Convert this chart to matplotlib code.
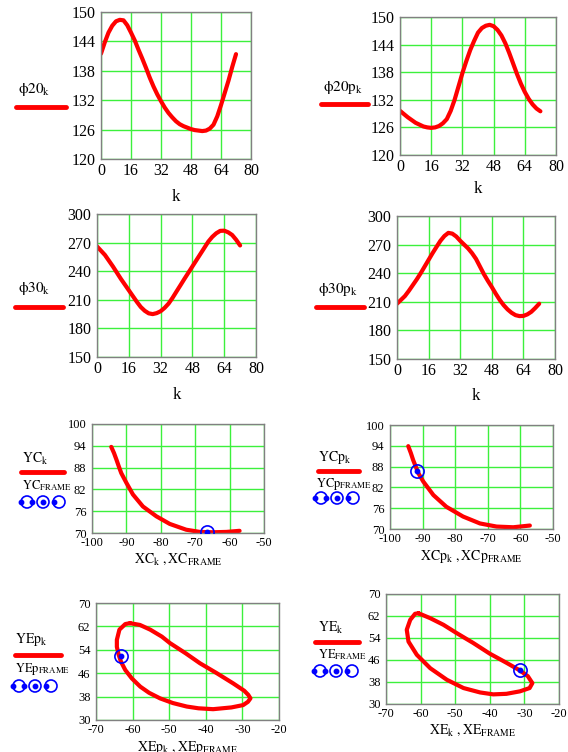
import numpy as np
import matplotlib
matplotlib.use("Agg")
import matplotlib.pyplot as plt
from matplotlib.patches import Circle

plt.rcParams['font.family'] = ['Liberation Serif', 'DejaVu Serif']
plt.rcParams['mathtext.fontset'] = 'stix'
plt.rcParams['axes.unicode_minus'] = False

W, H = 568, 752

# crank angle index
k = list(range(0, 73, 2))
phi20 = [141.5, 143.8, 145.8, 147.2, 148.1, 148.4, 148.3, 147.3, 145.8, 144.2, 142.3, 140.5,
         138.6, 136.6, 134.8, 133.2, 131.8, 130.5, 129.4, 128.5, 127.7, 127.1, 126.7, 126.4,
         126.1, 125.9, 125.8, 125.7, 125.8, 126.2, 127.0, 128.7, 131.0, 133.5, 136.0, 138.8, 141.4]
phi20p = [129.6, 128.9, 128.2, 127.6, 127.0, 126.6, 126.2, 126.0, 125.9, 126.0, 126.3, 126.9,
          127.8, 129.6, 132.0, 134.9, 137.8, 140.4, 142.8, 144.8, 146.6, 147.6, 148.1, 148.3,
          148.0, 147.2, 146.0, 144.3, 142.2, 139.9, 137.6, 135.5, 133.7, 132.2, 131.0, 130.1, 129.5]
phi30 = [266, 261.5, 257, 251, 245, 238.5, 232, 226, 220, 214, 208, 202.5,
         198.5, 195.8, 195, 196, 198, 201.5, 206, 212, 218.7, 225.3, 232, 238.5,
         245, 251.5, 258, 264.5, 271, 276, 279.8, 282.3, 282.5, 280.8, 278, 273, 267]
phi30p = [208, 212, 216, 221.5, 227.5, 233.5, 240, 247, 254, 261, 267.6, 274,
          279, 282.3, 281.5, 278.5, 274, 270, 266, 261, 255, 247, 239, 232,
          225.5, 218.5, 212, 206.5, 202, 198.5, 196, 195, 195.2, 196.8, 199.5, 203.5, 208]

# coupler point C path
XC = [-94.4, -93.6, -92.9, -92.2, -91.5, -90.0, -88.1, -85.2, -81.3, -77.4, -72.6, -68.7,
      -64.8, -60.9, -57.1]
YC = [93.7, 92.0, 90.2, 88.3, 86.5, 83.8, 80.6, 77.3, 74.6, 72.5, 70.9, 70.3,
      70.2, 70.3, 70.6]
XC_FRAME = [-66.5]
YC_FRAME = [70.25]
XCp = [-94.4, -93.6, -92.9, -92.1, -91.3, -89.8, -86.7, -82.7, -77.6, -72.4, -67.3, -62.2, -57.1]
YCp = [93.9, 91.9, 89.9, 88.0, 86.1, 83.7, 79.8, 76.4, 73.6, 71.6, 70.7, 70.5, 71.0]
XCp_FRAME = [-91.6]
YCp_FRAME = [86.7]

# point E path (closed loops)
XEp = [-60.7, -58.0, -55.2, -52.0, -49.8, -45.5, -41.6, -37.0, -32.5, -29.5, -28.4, -27.8,
       -28.5, -29.8, -33.0, -38.0, -42.0, -45.2, -49.0, -52.5, -55.5, -57.9, -60.2, -62.0,
       -63.2, -63.8, -64.3, -64.3, -63.6, -62.0, -60.7]
YEp = [63.1, 62.5, 60.9, 58.5, 56.3, 52.8, 49.4, 46.0, 42.5, 40.0, 38.6, 37.4,
       36.2, 35.1, 34.3, 33.7, 34.0, 34.6, 35.8, 37.4, 39.3, 41.4, 44.2, 47.1,
       50.0, 52.3, 55.0, 57.4, 60.9, 62.8, 63.1]
XEp_FRAME = [-63.2]
YEp_FRAME = [52.0]
XE = [-60.6, -57.2, -53.4, -49.6, -44.8, -40.0, -35.2, -31.3, -29.0, -27.7, -28.5, -31.3,
      -35.2, -39.0, -42.8, -47.6, -52.4, -57.2, -61.1, -63.5, -64.0, -63.0, -61.6, -60.6]
YE = [63.0, 61.2, 58.8, 55.8, 52.2, 48.3, 45.0, 42.2, 40.1, 37.6, 35.8, 34.6,
      33.7, 33.5, 34.2, 35.8, 38.8, 43.0, 47.9, 52.7, 57.0, 60.6, 62.8, 63.0]
XE_FRAME = [-31.3]
YE_FRAME = [42.2]

fig = plt.figure(figsize=(W / 100, H / 100), dpi=100)
ov = fig.add_axes([0, 0, 1, 1])
ov.set_xlim(0, W); ov.set_ylim(H, 0); ov.axis('off')

RED = '#ff0000'
GRID = '#3cf03c'


def make_axes(box, xlim, ylim, xticks, yticks, xlabel, labelpad, tsize, lsize):
    l, r, t, b = box
    ax = fig.add_axes([l / W, 1 - b / H, (r - l) / W, (b - t) / H])
    ax.set_xlim(xlim); ax.set_ylim(ylim)
    ax.set_xticks(xticks); ax.set_yticks(yticks)
    ax.grid(True, color=GRID, lw=1)
    ax.set_axisbelow(True)
    ax.tick_params(length=0, labelsize=tsize, pad=3)
    ax.tick_params(axis='y', pad=4)
    for s in ax.spines.values():
        s.set_color('#808080'); s.set_linewidth(1)
    ax.set_xlabel(xlabel, fontsize=lsize, labelpad=labelpad)
    return ax


def curve(ax, xs, ys):
    ax.plot(xs, ys, color=RED, lw=3, solid_joinstyle='round', solid_capstyle='round')


def line_legend(x, y, label, x0, x1, ly, size=11):
    ov.text(x, y, label, fontsize=size, va='baseline', ha='left')
    ov.plot([x0, x1], [ly, ly], color=RED, lw=3.5, solid_capstyle='round')


def frame_legend(x, y, label, mx, my):
    ov.text(x, y, label, fontsize=9, va='baseline', ha='left')
    for dx in (0, 16, 32):
        ov.add_patch(Circle((mx + dx, my), 6, fill=False, ec='blue', lw=1.2))
    ov.plot([mx - 6, mx + 5, mx + 16, mx + 27], [my] * 4, 'o', color='blue', ms=3.2, ls='none')


def frame_mark(ax, xs, ys):
    ax.plot(xs, ys, 'o', mfc='none', mec='blue', ms=9.5, mew=1.2, zorder=4)
    ax.plot(xs, ys, 'o', color='blue', ms=3.2, zorder=5)


kt = [0, 16, 32, 48, 64, 80]

ax = make_axes((101, 251, 12, 159), (0, 80), (120, 150), kt, [120, 126, 132, 138, 144, 150],
               'k', 7, 11.5, 12)
curve(ax, k, phi20)
line_legend(18, 93, r'$\mathrm{\phi20_k}$', 16, 66, 107)

ax = make_axes((400, 556, 17, 155), (0, 80), (120, 150), kt, [120, 126, 132, 138, 144, 150],
               'k', 4, 11.5, 12)
curve(ax, k, phi20p)
line_legend(323, 91, r'$\mathrm{\phi20p_k}$', 321, 368, 104)

ax = make_axes((97, 256, 214, 357), (0, 80), (150, 300), kt, [150, 180, 210, 240, 270, 300],
               'k', 7, 11.5, 12)
curve(ax, k, phi30)
line_legend(18, 292, r'$\mathrm{\phi30_k}$', 15, 63, 307)

ax = make_axes((397, 555, 216, 359), (0, 80), (150, 300), kt, [150, 180, 210, 240, 270, 300],
               'k', 6, 11.5, 12)
curve(ax, k, phi30p)
line_legend(318, 293, r'$\mathrm{\phi30p_k}$', 316, 364, 307)

ax = make_axes((92, 264, 424, 533), (-100, -50), (70, 100), [-100, -90, -80, -70, -60, -50],
               [70, 76, 82, 88, 94, 100], r'$\mathrm{XC_k\ ,XC_{FRAME}}$', 2, 9, 10)
curve(ax, XC, YC)
frame_mark(ax, XC_FRAME, YC_FRAME)
line_legend(22, 463, r'$\mathrm{YC_k}$', 21, 64, 472, 10)
frame_legend(22, 489, r'$\mathrm{YC_{FRAME}}$', 27, 502)

ax = make_axes((390, 553, 425, 529), (-100, -50), (70, 100), [-100, -90, -80, -70, -60, -50],
               [70, 76, 82, 88, 94, 100], r'$\mathrm{XCp_k\ ,XCp_{FRAME}}$', 2, 9, 10)
curve(ax, XCp, YCp)
frame_mark(ax, XCp_FRAME, YCp_FRAME)
line_legend(318, 461, r'$\mathrm{YCp_k}$', 318, 359, 471, 10)
frame_legend(316, 487, r'$\mathrm{YCp_{FRAME}}$', 321, 498)

ax = make_axes((96, 279, 603, 720), (-70, -20), (30, 70), [-70, -60, -50, -40, -30, -20],
               [30, 38, 46, 54, 62, 70], r'$\mathrm{XEp_k\ ,XEp_{FRAME}}$', 2, 9, 10)
curve(ax, XEp, YEp)
frame_mark(ax, XEp_FRAME, YEp_FRAME)
line_legend(15, 643, r'$\mathrm{YEp_k}$', 15, 61, 655, 10)
frame_legend(15, 672, r'$\mathrm{YEp_{FRAME}}$', 19, 686)

ax = make_axes((386, 559, 594, 704), (-70, -20), (30, 70), [-70, -60, -50, -40, -30, -20],
               [30, 38, 46, 54, 62, 70], r'$\mathrm{XE_k\ ,XE_{FRAME}}$', 2, 9, 10)
curve(ax, XE, YE)
frame_mark(ax, XE_FRAME, YE_FRAME)
line_legend(318, 632, r'$\mathrm{YE_k}$', 315, 359, 642, 10)
frame_legend(318, 658, r'$\mathrm{YE_{FRAME}}$', 320, 671)

fig.savefig('out.png', dpi=100)
